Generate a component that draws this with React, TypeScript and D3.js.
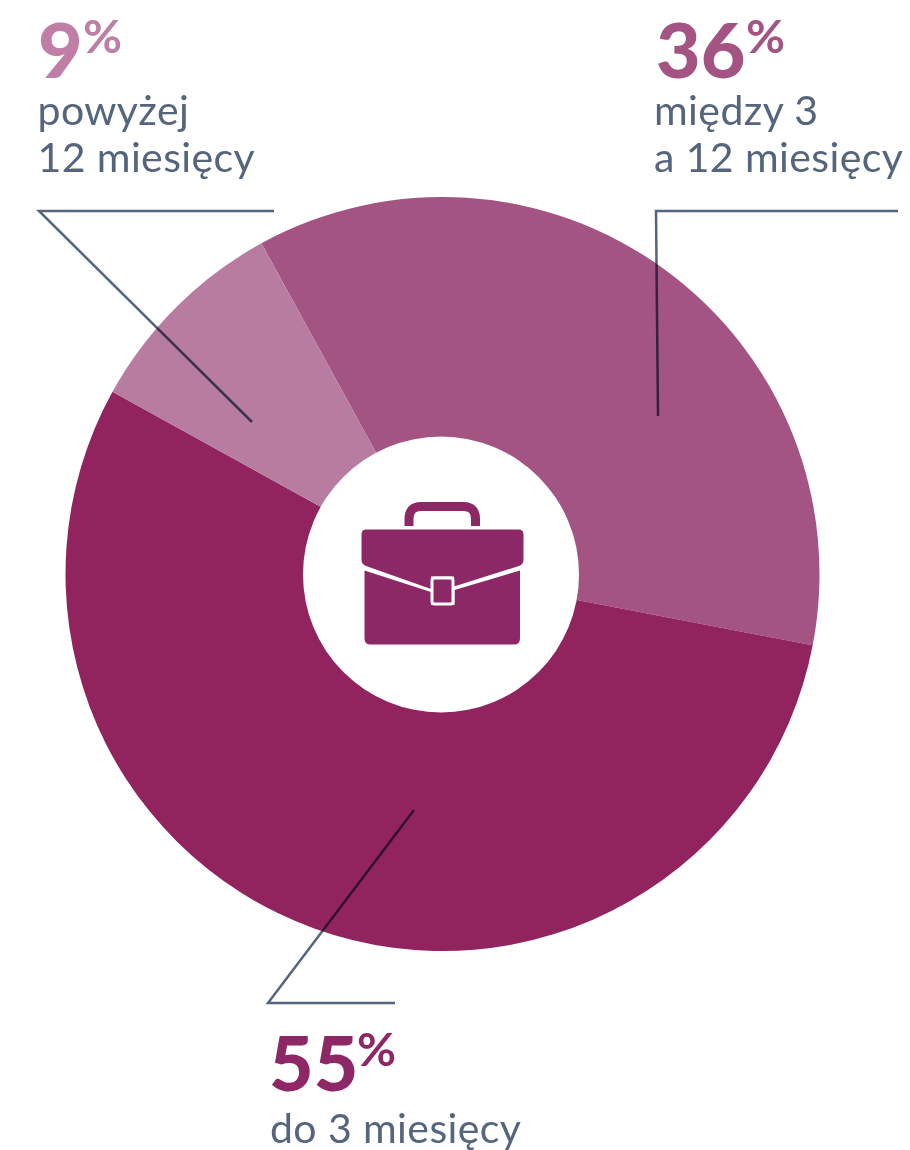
import * as d3 from "d3";
import React from "react";

const percents = [36, 55, 9];
const colors = ["#A35483", "#91245F", "#B87CA1"];
const textColors = ["#A35483", "#8E2765", "#BE7EA5"];
const labelLines = [
  ["między 3", "a 12 miesięcy"],
  ["do 3 miesięcy"],
  ["powyżej", "12 miesięcy"],
];

const width = 910;
const height = 1150;
const cx = 442.5;
const cy = 574;
const outerR = 377;
const holeX = 441;
const holeY = 574.5;
const holeR = 138;
const startDeg = -28.7;

const ink = "#54657D";
const iconColor = "#8C2865";
const fontFamily = "Lato, 'Noto Sans', sans-serif";

// text anchors, same order as percents
const labelPos = [
  { x: 656, numY: 78, pctX: 746, pctY: 53, textX: 654, lineY: [125, 172] },
  { x: 269, numY: 1091, pctX: 357, pctY: 1066, textX: 270, lineY: [1143] },
  { x: 38, numY: 78, pctX: 83, pctY: 53, textX: 37.5, lineY: [125, 172] },
];

const leaders = [
  [[898, 211], [656, 211], [658, 416]],
  [[395, 1003], [268, 1003], [414, 810]],
  [[274, 211], [39, 211], [252, 422]],
] as [number, number][][];

const pie = d3
  .pie<number>()
  .sort(null)
  .startAngle((startDeg * Math.PI) / 180)
  .endAngle(((startDeg + 360) * Math.PI) / 180);

const arc = d3.arc<d3.PieArcDatum<number>>().innerRadius(100).outerRadius(outerR);
const line = d3.line();

const Briefcase = () => (
  <g>
    {/* handle */}
    <path
      d="M409 526 V519 Q409 506.5 421 506.5 H463.5 Q475.5 506.5 475.5 519 V526"
      fill="none"
      stroke={iconColor}
      strokeWidth={9}
    />
    {/* flap */}
    <path
      d="M366 529.5 H518.5 Q523.5 529.5 523.5 534.5 V560 Q523.5 564 519 566 L454 586.5 V576.5 H431 V589 L366 566 Q361.5 564 361.5 560 V534.5 Q361.5 529.5 366 529.5 Z"
      fill={iconColor}
    />
    {/* bottom */}
    <path
      d="M364.5 570.5 L431 592 V605 H454.5 V590 L520 570.5 V638.5 Q520 644.5 514 644.5 H370.5 Q364.5 644.5 364.5 638.5 Z"
      fill={iconColor}
    />
    {/* clasp */}
    <rect x={432} y={578} width={21} height={26} rx={2.5} fill={iconColor} stroke="#fff" strokeWidth={3} />
  </g>
);

export default function App() {
  const arcs = pie(percents);

  return (
    <svg
      width={width}
      height={height}
      viewBox={`0 0 ${width} ${height}`}
      style={{ position: "absolute", left: 0, top: 0, background: "#fff" }}
      fontFamily={fontFamily}
    >
      <g transform={`translate(${cx},${cy})`}>
        {arcs.map((d, i) => (
          <path key={i} d={arc(d) ?? ""} fill={colors[i]} />
        ))}
      </g>
      <circle cx={holeX} cy={holeY} r={holeR} fill="#fff" />

      <Briefcase />

      {leaders.map((pts, i) => (
        <path
          key={i}
          d={line(pts) ?? ""}
          fill="none"
          stroke={ink}
          strokeWidth={2.5}
          style={{ mixBlendMode: "multiply" }}
        />
      ))}

      {percents.map((p, i) => {
        const pos = labelPos[i];
        return (
          <g key={i}>
            <text x={pos.x} y={pos.numY} fontSize={77} fontWeight={900} fill={textColors[i]}>
              {p}
            </text>
            <text
              transform={`translate(${pos.pctX},${pos.pctY}) scale(1.06,1)`}
              fontSize={45}
              fontWeight={700}
              fill={textColors[i]}
            >
              %
            </text>
            {labelLines[i].map((t, j) => (
              <text key={j} x={pos.textX} y={pos.lineY[j]} fontSize={41} letterSpacing={0.4} fill={ink}>
                {t}
              </text>
            ))}
          </g>
        );
      })}
    </svg>
  );
}
